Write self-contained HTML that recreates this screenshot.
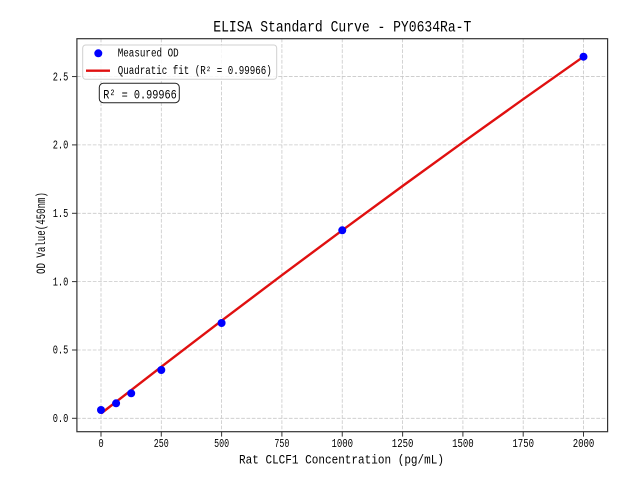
<!DOCTYPE html>
<html>
<head>
<meta charset="utf-8">
<style>
html,body{margin:0;padding:0;background:#fff;}
svg{display:block;}
text{font-family:"Liberation Mono","Noto Sans CJK SC",monospace;fill:#000;}
</style>
</head>
<body>
<svg width="640" height="480" viewBox="0 0 640 480" xmlns="http://www.w3.org/2000/svg">
<rect x="0" y="0" width="640" height="480" fill="#fff"/>
<!-- grid -->
<g stroke="#c8c8c8" stroke-width="0.8" stroke-dasharray="3.7,1.6" fill="none">
  <line x1="101" y1="38.7" x2="101" y2="431.7"/>
  <line x1="161.3" y1="38.7" x2="161.3" y2="431.7"/>
  <line x1="221.6" y1="38.7" x2="221.6" y2="431.7"/>
  <line x1="281.9" y1="38.7" x2="281.9" y2="431.7"/>
  <line x1="342.25" y1="38.7" x2="342.25" y2="431.7"/>
  <line x1="402.6" y1="38.7" x2="402.6" y2="431.7"/>
  <line x1="462.9" y1="38.7" x2="462.9" y2="431.7"/>
  <line x1="523.2" y1="38.7" x2="523.2" y2="431.7"/>
  <line x1="583.5" y1="38.7" x2="583.5" y2="431.7"/>
  <line x1="76.9" y1="418.3" x2="607.6" y2="418.3"/>
  <line x1="76.9" y1="350" x2="607.6" y2="350"/>
  <line x1="76.9" y1="281.6" x2="607.6" y2="281.6"/>
  <line x1="76.9" y1="213.3" x2="607.6" y2="213.3"/>
  <line x1="76.9" y1="144.9" x2="607.6" y2="144.9"/>
  <line x1="76.9" y1="76.55" x2="607.6" y2="76.55"/>
</g>
<!-- fit line -->
<polyline fill="none" stroke="#e01010" stroke-width="2.4" stroke-linejoin="round"
  points="101,413.5 161.3,366.8 221.6,320.7 281.9,275.2 342.25,230.3 402.6,186.0 462.9,142.3 523.2,99.2 583.5,56.7"/>
<!-- markers -->
<g fill="#0000ff">
  <circle cx="101" cy="410" r="4"/>
  <circle cx="116.1" cy="403.3" r="4"/>
  <circle cx="131.2" cy="393.3" r="4"/>
  <circle cx="161.3" cy="370" r="4"/>
  <circle cx="221.6" cy="323" r="4"/>
  <circle cx="342.25" cy="230.3" r="4"/>
  <circle cx="583.5" cy="56.7" r="4"/>
</g>
<!-- spines -->
<rect x="76.9" y="38.7" width="530.7" height="393" fill="none" stroke="#333" stroke-width="1.2"/>
<!-- ticks -->
<g stroke="#333" stroke-width="1">
  <line x1="101" y1="431.7" x2="101" y2="436.6"/>
  <line x1="161.3" y1="431.7" x2="161.3" y2="436.6"/>
  <line x1="221.6" y1="431.7" x2="221.6" y2="436.6"/>
  <line x1="281.9" y1="431.7" x2="281.9" y2="436.6"/>
  <line x1="342.25" y1="431.7" x2="342.25" y2="436.6"/>
  <line x1="402.6" y1="431.7" x2="402.6" y2="436.6"/>
  <line x1="462.9" y1="431.7" x2="462.9" y2="436.6"/>
  <line x1="523.2" y1="431.7" x2="523.2" y2="436.6"/>
  <line x1="583.5" y1="431.7" x2="583.5" y2="436.6"/>
  <line x1="72" y1="418.3" x2="76.9" y2="418.3"/>
  <line x1="72" y1="350" x2="76.9" y2="350"/>
  <line x1="72" y1="281.6" x2="76.9" y2="281.6"/>
  <line x1="72" y1="213.3" x2="76.9" y2="213.3"/>
  <line x1="72" y1="144.9" x2="76.9" y2="144.9"/>
  <line x1="72" y1="76.55" x2="76.9" y2="76.55"/>
</g>
<!-- x tick labels -->
<g font-size="12">
  <text x="98.4" y="447" textLength="5.3" lengthAdjust="spacingAndGlyphs">0</text>
  <text x="153.8" y="447" textLength="15" lengthAdjust="spacingAndGlyphs">250</text>
  <text x="214.1" y="447" textLength="15" lengthAdjust="spacingAndGlyphs">500</text>
  <text x="274.4" y="447" textLength="15" lengthAdjust="spacingAndGlyphs">750</text>
  <text x="331.45" y="447" textLength="21.6" lengthAdjust="spacingAndGlyphs">1000</text>
  <text x="391.8" y="447" textLength="21.6" lengthAdjust="spacingAndGlyphs">1250</text>
  <text x="452.1" y="447" textLength="21.6" lengthAdjust="spacingAndGlyphs">1500</text>
  <text x="512.4" y="447" textLength="21.6" lengthAdjust="spacingAndGlyphs">1750</text>
  <text x="572.7" y="447" textLength="21.6" lengthAdjust="spacingAndGlyphs">2000</text>
</g>
<!-- y tick labels -->
<g font-size="12">
  <text x="52.7" y="422" textLength="15.6" lengthAdjust="spacingAndGlyphs">0.0</text>
  <text x="52.7" y="353.7" textLength="15.6" lengthAdjust="spacingAndGlyphs">0.5</text>
  <text x="52.7" y="285.3" textLength="15.6" lengthAdjust="spacingAndGlyphs">1.0</text>
  <text x="52.7" y="217" textLength="15.6" lengthAdjust="spacingAndGlyphs">1.5</text>
  <text x="52.7" y="148.6" textLength="15.6" lengthAdjust="spacingAndGlyphs">2.0</text>
  <text x="52.7" y="80.25" textLength="15.6" lengthAdjust="spacingAndGlyphs">2.5</text>
</g>
<!-- axis labels -->
<text x="239" y="463.3" font-size="13" textLength="205" lengthAdjust="spacingAndGlyphs">Rat CLCF1 Concentration (pg/mL)</text>
<text transform="translate(45,274) rotate(-90)" x="0" y="0" font-size="12.5" textLength="82" lengthAdjust="spacingAndGlyphs">OD Value(450nm)</text>
<!-- title -->
<text x="213.3" y="31.7" font-size="16" textLength="258" lengthAdjust="spacingAndGlyphs">ELISA Standard Curve - PY0634Ra-T</text>
<!-- legend -->
<rect x="82.7" y="45" width="194" height="34.3" rx="3" ry="3" fill="#fff" fill-opacity="0.85" stroke="#d0d0d0" stroke-width="1"/>
<circle cx="98.3" cy="53.3" r="4" fill="#0000ff"/>
<line x1="86" y1="70.7" x2="110" y2="70.7" stroke="#e01010" stroke-width="2.4"/>
<text x="117.7" y="56.7" font-size="11.5" textLength="61" lengthAdjust="spacingAndGlyphs">Measured OD</text>
<text x="117.7" y="74" font-size="11.5" textLength="154" lengthAdjust="spacingAndGlyphs">Quadratic fit (R² = 0.99966)</text>
<!-- R2 box -->
<rect x="99.3" y="83.3" width="80" height="19.4" rx="4" ry="4" fill="#fff" stroke="#222" stroke-width="1"/>
<text x="103.3" y="98.3" font-size="13" textLength="73.4" lengthAdjust="spacingAndGlyphs">R² = 0.99966</text>
</svg>
</body>
</html>
